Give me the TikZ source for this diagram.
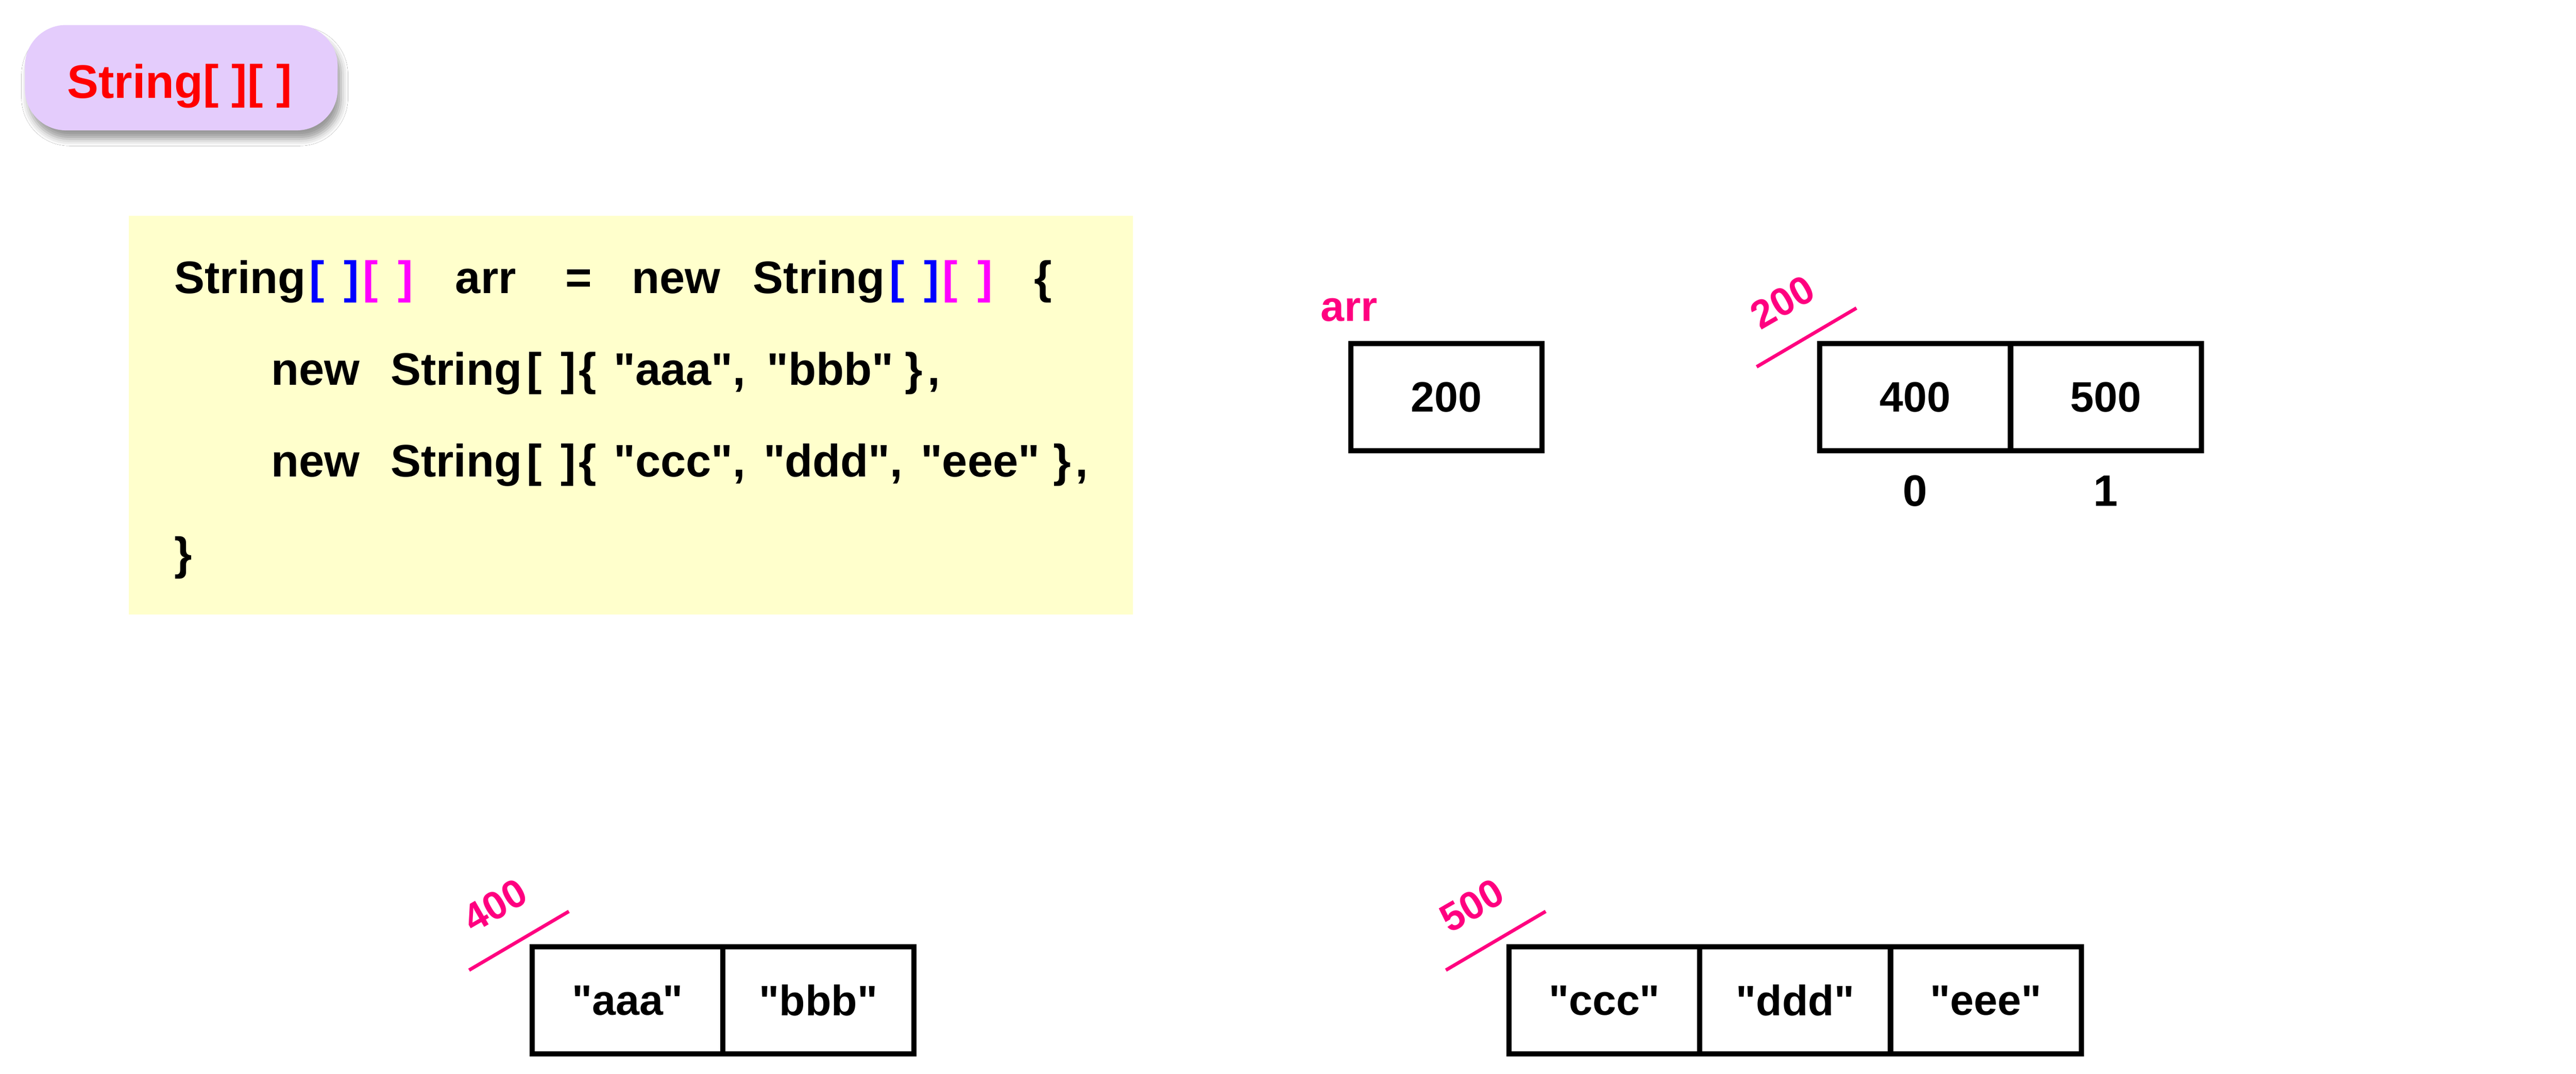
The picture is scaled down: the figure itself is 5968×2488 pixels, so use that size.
\documentclass[tikz,border=0pt]{standalone}
\usepackage{fontspec}
\setmainfont{Liberation Sans}[Ligatures=TeXOff]
\usetikzlibrary{shadows.blur}
\definecolor{pinkc}{RGB}{255,0,128}
\definecolor{lav}{RGB}{228,204,252}
\definecolor{codebg}{RGB}{255,255,204}
\definecolor{bblue}{RGB}{0,0,255}
\definecolor{bmag}{RGB}{255,0,255}
\definecolor{tred}{RGB}{255,0,0}
\tikzset{
  cell/.style={draw, line width=0.12cm, minimum width=4.42cm, minimum height=2.48cm,
    inner sep=0pt, outer sep=0pt, font=\fontsize{28}{34}\selectfont\bfseries},
  code/.style={anchor=base west, inner sep=0pt, outer sep=0pt, font=\fontsize{30}{36}\selectfont\bfseries},
  pinklbl/.style={text=pinkc, rotate=30, inner sep=0pt, font=\fontsize{26}{30}\selectfont\bfseries},
  slash/.style={draw=pinkc, line width=0.08cm},
  idx/.style={anchor=base, inner sep=0pt, font=\fontsize{29}{34}\selectfont\bfseries},
  pill/.style={fill=lav, rounded corners=0.95cm, minimum width=7.24cm, minimum height=2.44cm,
    inner sep=0pt, blur shadow={shadow xshift=0.08cm, shadow yshift=-0.2cm, shadow blur radius=0.16cm}},
  codebox/.style={fill=codebg, minimum width=23.25cm, minimum height=9.24cm, inner sep=0pt},
}
\begin{document}
\begin{tikzpicture}[x=0.01cm, y=-0.01cm]
\path[fill=white, use as bounding box] (0,0) rectangle (5968,2488);

% title
\node[pill] (title) at (420,180) {};
\node[anchor=base, inner sep=0pt, text=tred, font=\fontsize{31}{36}\selectfont\bfseries] (titletxt) at (416,227) {String[ ][ ]};

% code box
\node[codebox] (codebg) at (1461.5,962) {};
% line 1
\node[code] (c1a) at (404,680) {String};
\node[code,text=bblue] (c1b) at (717,680) {[};
\node[code,text=bblue] (c1c) at (797,680) {]};
\node[code,text=bmag] (c1d) at (841,680) {[};
\node[code,text=bmag] (c1e) at (922,680) {]};
\node[code] (c1f) at (1055,680) {arr};
\node[code] (c1g) at (1310,680) {=};
\node[code] (c1h) at (1464,680) {new};
\node[code] (c1i) at (1745,680) {String};
\node[code,text=bblue] (c1j) at (2061,680) {[};
\node[code,text=bblue] (c1k) at (2141,680) {]};
\node[code,text=bmag] (c1l) at (2184,680) {[};
\node[code,text=bmag] (c1m) at (2265,680) {]};
\node[code] (c1n) at (2396,680) {\{};
% line 2
\node[code] (c2a) at (628,892) {new};
\node[code] (c2b) at (905,892) {String};
\node[code] (c2c) at (1220,892) {[};
\node[code] (c2d) at (1299,892) {]};
\node[code] (c2e) at (1341,892) {\{};
\node[code] (c2f) at (1422,892) {"aaa",};
\node[code] (c2g) at (1777,892) {"bbb"};
\node[code] (c2h) at (2097,892) {\}};
\node[code] (c2i) at (2149,892) {,};
% line 3
\node[code] (c3a) at (628,1105) {new};
\node[code] (c3b) at (905,1105) {String};
\node[code] (c3c) at (1220,1105) {[};
\node[code] (c3d) at (1299,1105) {]};
\node[code] (c3e) at (1341,1105) {\{};
\node[code] (c3f) at (1422,1105) {"ccc",};
\node[code] (c3g) at (1769,1105) {"ddd",};
\node[code] (c3h) at (2133,1105) {"eee"};
\node[code] (c3i) at (2440,1105) {\}};
\node[code] (c3j) at (2492,1105) {,};
% line 4
\node[code] (c4a) at (404,1320) {\}};

% arr variable
\node[cell] (arrbox) at (3351,920) {200};
\node[anchor=base west, inner sep=0pt, text=pinkc, font=\fontsize{28}{34}\selectfont\bfseries] (arrlbl)
  at ([xshift=-0.71cm, yshift=0.52cm]arrbox.north west) {arr};

% array at 200
\node[cell] (t0) at (4437,920) {400};
\node[cell] (t1) at (4879,920) {500};
\node[idx] (i0) at ([yshift=-1.28cm]t0.south) {0};
\node[idx] (i1) at ([yshift=-1.28cm]t1.south) {1};
\draw[slash] ([xshift=-1.46cm, yshift=-0.54cm]t0.north west) -- ([xshift=0.85cm, yshift=0.82cm]t0.north west);
\node[pinklbl] (l200) at ([xshift=-0.86cm, yshift=0.96cm]t0.north west) {200};

% array at 400
\node[cell] (a0) at (1454,2318) {"aaa"};
\node[cell] (a1) at (1896,2318) {"bbb"};
\draw[slash] ([xshift=-1.46cm, yshift=-0.54cm]a0.north west) -- ([xshift=0.85cm, yshift=0.82cm]a0.north west);
\node[pinklbl] (l400) at ([xshift=-0.86cm, yshift=0.96cm]a0.north west) {400};

% array at 500
\node[cell] (b0) at (3717,2318) {"ccc"};
\node[cell] (b1) at (4159,2318) {"ddd"};
\node[cell] (b2) at (4601,2318) {"eee"};
\draw[slash] ([xshift=-1.46cm, yshift=-0.54cm]b0.north west) -- ([xshift=0.85cm, yshift=0.82cm]b0.north west);
\node[pinklbl] (l500) at ([xshift=-0.86cm, yshift=0.96cm]b0.north west) {500};
\end{tikzpicture}
\end{document}
